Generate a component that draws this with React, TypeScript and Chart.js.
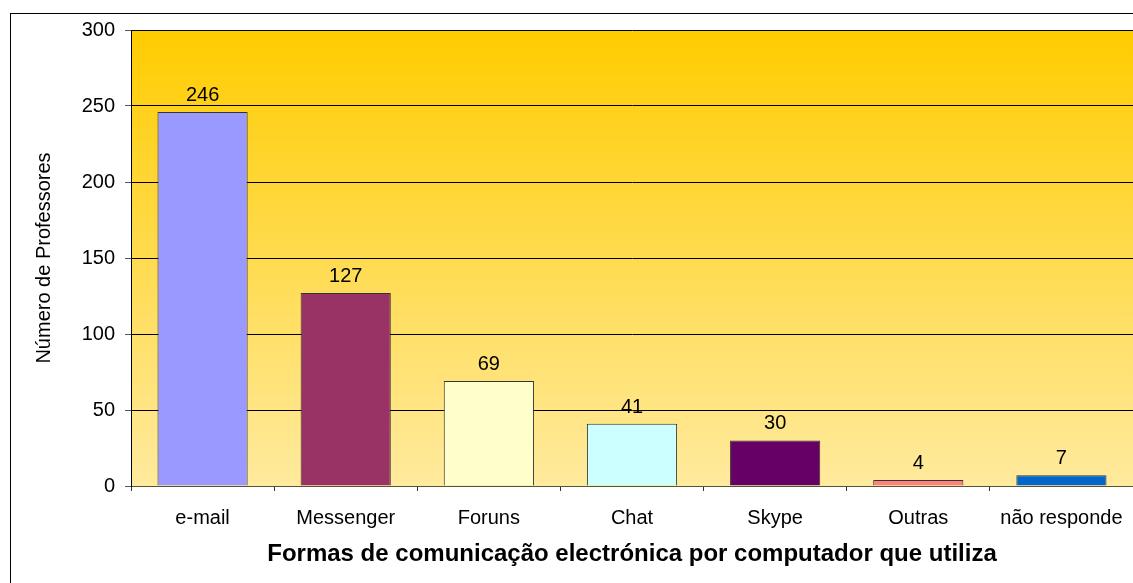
import React, { useEffect, useRef } from "react";
import { Chart, registerables } from "chart.js";

Chart.register(...registerables);

const categories = ["e-mail", "Messenger", "Foruns", "Chat", "Skype", "Outras", "não responde"];
const values = [246, 127, 69, 41, 30, 4, 7];
const barColors = ["#9999FF", "#993366", "#FFFFCC", "#CCFFFF", "#660066", "#FF8080", "#0066CC"];
const yTicks = [0, 50, 100, 150, 200, 250, 300];
const yTitle = "Número de Professores";
const xTitle = "Formas de comunicação electrónica por computador que utiliza";

const FONT = "'Liberation Sans', Arial, sans-serif";

export default function App() {
  const ref = useRef<HTMLCanvasElement | null>(null);

  useEffect(() => {
    document.body.style.margin = "0";
    const canvas = ref.current;
    if (!canvas) return;

    const bgPlugin = {
      id: "bg",
      beforeDraw(chart: any) {
        const { ctx, chartArea } = chart;
        ctx.save();
        ctx.fillStyle = "#ffffff";
        ctx.fillRect(0, 0, chart.width, chart.height);
        const g = ctx.createLinearGradient(0, chartArea.top, 0, chartArea.bottom);
        g.addColorStop(0, "#FFCC00");
        g.addColorStop(1, "#FFEA9E");
        ctx.fillStyle = g;
        ctx.fillRect(chartArea.left, chartArea.top, chartArea.right - chartArea.left, chartArea.bottom - chartArea.top);
        ctx.strokeStyle = "#000000";
        ctx.lineWidth = 1;
        ctx.strokeRect(10.5, 13.5, chart.width + 50, chart.height + 50);
        ctx.restore();
      },
    };

    const labelPlugin = {
      id: "vals",
      afterDatasetsDraw(chart: any) {
        const { ctx } = chart;
        const meta = chart.getDatasetMeta(0);
        ctx.save();
        ctx.font = `20px ${FONT}`;
        ctx.fillStyle = "#000000";
        ctx.textAlign = "center";
        ctx.textBaseline = "alphabetic";
        meta.data.forEach((bar: any, i: number) => {
          ctx.fillText(String(values[i]), bar.x, bar.y - 11);
        });
        ctx.restore();
      },
    };

    const chart = new Chart(canvas, {
      type: "bar",
      data: {
        labels: categories,
        datasets: [
          {
            data: values,
            backgroundColor: barColors,
            borderColor: "#333333",
            borderWidth: 1,
            categoryPercentage: 1,
            barPercentage: 0.63,
          },
        ],
      },
      options: {
        responsive: false,
        animation: false,
        maintainAspectRatio: false,
        layout: { padding: { left: 10, top: 30, right: 0, bottom: 0 } },
        plugins: {
          legend: { display: false },
          tooltip: { enabled: false },
        },
        scales: {
          x: {
            offset: true,
            afterFit(scale: any) {
              scale.height = 97;
              scale.paddingLeft = 0;
              scale.paddingRight = 0;
            },
            grid: {
              offset: true,
              drawOnChartArea: false,
              tickLength: 5,
              color: "#333333",
              tickColor: "#333333",
            },
            border: { color: "#555533", width: 1 },
            ticks: {
              color: "#000000",
              font: { family: FONT, size: 20 },
              padding: 15,
              maxRotation: 0,
              autoSkip: false,
            },
            title: {
              display: true,
              text: xTitle,
              color: "#000000",
              font: { family: FONT, size: 24, weight: "bold" },
              padding: { top: 0, bottom: 14 },
            },
          },
          y: {
            min: 0,
            max: 300,
            afterFit(scale: any) {
              scale.width = 121;
            },
            afterBuildTicks(scale: any) {
              scale.ticks = yTicks.map((v) => ({ value: v }));
            },
            grid: {
              color: "#000000",
              tickLength: 6,
              tickColor: "#555555",
            },
            border: { color: "#000000", width: 1 },
            ticks: {
              color: "#000000",
              font: { family: FONT, size: 20 },
              padding: 10,
            },
            title: {
              display: true,
              text: yTitle,
              color: "#000000",
              font: { family: FONT, size: 20 },
              padding: { top: 22, bottom: 0 },
            },
          },
        },
      },
      plugins: [bgPlugin, labelPlugin],
    } as any);

    return () => chart.destroy();
  }, []);

  return (
    <div style={{ width: 1133, height: 583 }}>
      <canvas ref={ref} width={1133} height={583} style={{ display: "block" }} />
    </div>
  );
}
